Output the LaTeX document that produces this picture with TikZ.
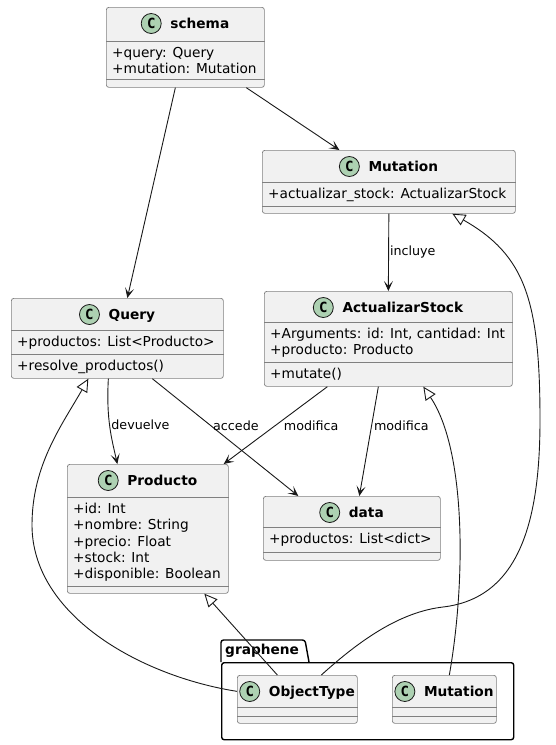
\documentclass[tikz,border=0pt]{standalone}
\usepackage{fontspec}
\setmainfont{DejaVu Sans}
\newfontfamily\circfont{DejaVu Sans Mono}
\usetikzlibrary{positioning}
\usetikzlibrary{arrows.meta}

\definecolor{umlfill}{HTML}{F1F1F1}
\definecolor{umlline}{HTML}{181818}
\definecolor{umlborder}{HTML}{808080}
\definecolor{circfill}{HTML}{ADD1B2}

\tikzset{
  classbox/.style={draw=umlborder, line width=0.7pt, fill=umlfill, rounded corners=2.5pt, inner sep=0pt},
  classtitle/.style={inner sep=0pt, anchor=base, font=\fontsize{13.7}{16.2}\selectfont\bfseries},
  stereo/.style={circle, draw=umlline, line width=0.8pt, fill=circfill, minimum size=20pt, inner sep=0pt,
    font=\fontsize{14}{14}\selectfont\circfont\bfseries},
  sepline/.style={draw=umlborder, line width=0.7pt},
  members/.style={inner sep=0pt, anchor=north west, align=left, font=\fontsize{13.7}{16.2}\selectfont},
  assoc/.style={draw=umlline, line width=0.9pt, -{Stealth[length=10pt, width=9pt, inset=5pt]}},
  inherit/.style={draw=umlline, line width=0.9pt, -{Triangle[open, length=13pt, width=12pt, fill=white]}},
  rel/.style={inner sep=0pt, anchor=west, font=\fontsize{12.7}{15}\selectfont},
  pkgline/.style={draw=black, line width=1.4pt, rounded corners=2.5pt},
}

% name, north west corner, width, height, title, separator depths
\newcommand{\umlclass}[6]{%
  \node[classbox, minimum width=#3, minimum height=#4, anchor=north west] (#1) at (#2) {};
  \node[classtitle] (#1-t) at ([xshift=14.5pt, yshift=-21pt]#1.north) {#5};
  \node[stereo] at ([xshift=-19pt, yshift=4.5pt]#1-t.base west) {C};
  \foreach \sep in {#6}
    \draw[sepline] ([yshift=-\sep pt]#1.north west) -- ([yshift=-\sep pt]#1.north east);
}

\begin{document}
\begin{tikzpicture}[x=1pt, y=-1pt]
  \useasboundingbox (0,0) rectangle (555,745);

  % package graphene
  \node[pkgline, minimum width=292pt, minimum height=77pt, anchor=north west] (graphene) at (221,662) {};
  \draw[pkgline] (graphene.north west) -- ++(0,-22) -- ++(84,0) -- ++(4,22);
  \node[classtitle, anchor=base west] at (225,654) {graphene};

  \umlclass{schema}{106,7}{158pt}{80pt}{schema}{34,72}
  \node[members] at ([xshift=6pt, yshift=-40pt]schema.north west) {+query: Query\\+mutation: Mutation};

  \umlclass{mutation}{262,150}{253pt}{63pt}{Mutation}{32,56}
  \node[members] at ([xshift=6pt, yshift=-38pt]mutation.north west) {+actualizar\_stock: ActualizarStock};

  \umlclass{query}{11,298}{212pt}{80pt}{Query}{32,56}
  \node[members] at ([xshift=6pt, yshift=-38pt]query.north west) {+productos: List<Producto>};
  \node[members] at ([xshift=6pt, yshift=-62pt]query.north west) {+resolve\_productos()};

  \umlclass{actualizar}{264,291}{248pt}{95pt}{ActualizarStock}{31,71}
  \node[members] at ([xshift=6pt, yshift=-37pt]actualizar.north west) {+Arguments: id: Int, cantidad: Int\\+producto: Producto};
  \node[members] at ([xshift=6pt, yshift=-77pt]actualizar.north west) {+mutate()};

  \umlclass{producto}{67,464}{161pt}{129pt}{Producto}{33,122}
  \node[members] at ([xshift=6pt, yshift=-39pt]producto.north west)
    {+id: Int\\+nombre: String\\+precio: Float\\+stock: Int\\+disponible: Boolean};

  \umlclass{data}{263,496}{177pt}{64pt}{data}{31,56}
  \node[members] at ([xshift=6pt, yshift=-37pt]data.north west) {+productos: List<dict>};

  \umlclass{objtype}{237,675}{120pt}{48pt}{ObjectType}{32,41}
  \umlclass{gmutation}{392,675}{104pt}{48pt}{Mutation}{32,41}

  % associations
  \draw[assoc] ([xshift=-10pt]schema.south) -- ([xshift=10pt]query.north);
  \draw[assoc] ([xshift=61pt]schema.south) -- ([xshift=-49.5pt]mutation.north);
  \draw[assoc] (mutation.south) -- (actualizar.north) node[rel, pos=.5, xshift=1pt] {incluye};
  \draw[assoc] ([xshift=-9pt]query.south) .. controls (106,420) and (112,440) .. ([xshift=-30.5pt]producto.north)
    node[rel, pos=.5, xshift=1pt, yshift=2.75pt] {devuelve};
  \draw[assoc] ([xshift=35pt]query.south) -- ([xshift=-53.5pt]data.north) node[rel, pos=.4, xshift=2pt] {accede};
  \draw[assoc] ([xshift=-61pt]actualizar.south) -- ([xshift=-5pt]producto.north east) node[rel, pos=.5, xshift=8pt] {modifica};
  \draw[assoc] ([xshift=-10pt]actualizar.south) -- ([xshift=7.5pt]data.north) node[rel, pos=.355, xshift=2pt] {modifica};

  % inheritance
  \draw[inherit] ([yshift=8pt]objtype.west) .. controls (140,676) and (32,615) .. (32,525)
    .. controls (32,465) and (62,425) .. ([xshift=-29pt]query.south);
  \draw[inherit] ([xshift=-20pt]objtype.north) -- ([xshift=56.5pt]producto.south);
  \draw[inherit] ([xshift=24pt]objtype.north) .. controls (360,640) and (400,612) .. (443,607)
    .. controls (520,598) and (540,520) .. (540,420) .. controls (540,300) and (525,255) .. ([xshift=63.5pt]mutation.south);
  \draw[inherit] ([xshift=5pt]gmutation.north) .. controls (466,580) and (466,450) .. ([xshift=35pt]actualizar.south);
\end{tikzpicture}
\end{document}
